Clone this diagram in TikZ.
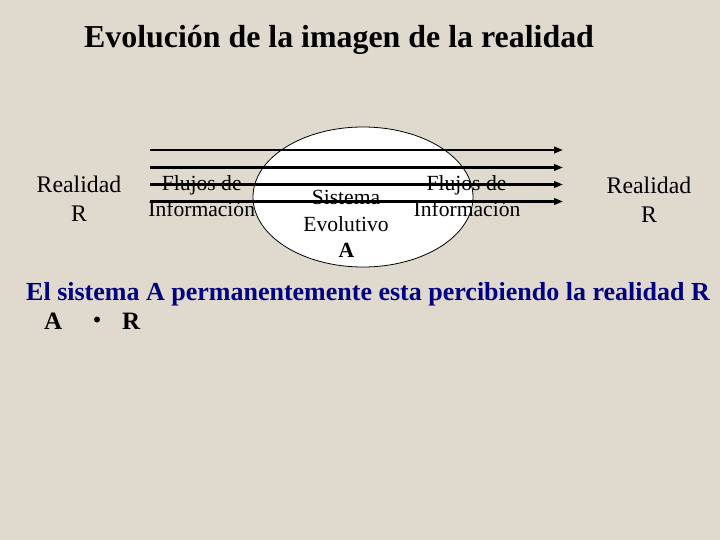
\documentclass[tikz,border=0pt]{standalone}
\usepackage{fontspec}
\setmainfont{Liberation Serif}
\usetikzlibrary{arrows.meta,shapes.geometric}
\definecolor{bgbeige}{RGB}{224,217,205}
\definecolor{navyblue}{RGB}{0,0,128}
\tikzset{
  lbl/.style={anchor=base,inner sep=0pt,font=\fontsize{21.6}{24}\selectfont},
  reallbl/.style={anchor=base,inner sep=0pt,font=\fontsize{23.8}{26}\selectfont},
  flow/.style={line width=2.2pt,-{Triangle[length=9pt,width=6.5pt]}},
}
\begin{document}
\begin{tikzpicture}[x=1pt,y=-1pt]
\useasboundingbox (0,0) rectangle (720,540);
\fill[bgbeige] (0,0) rectangle (720,540);
% title
\node[anchor=base,inner sep=0pt,font=\bfseries\fontsize{31.9}{34}\selectfont] (title) at (339,48) {Evolución de la imagen de la realidad};
% ellipse
\node[draw=black,fill=white,line width=0.8pt,ellipse,minimum width=220pt,minimum height=140pt,inner sep=0pt] (sys) at (363,197) {};
% left and right labels
\node[reallbl] (realL) at (79,192.5) {Realidad};
\node[reallbl] (realLR) at (79,221.8) {R};
\node[reallbl] (realR) at (649,193.3) {Realidad};
\node[reallbl] (realRR) at (649,222.3) {R};
\node[lbl] (flujL) at (201.7,191) {Flujos de};
\node[lbl] (infoL) at (201.7,216.5) {Información};
\node[lbl] (flujR) at (466.5,191) {Flujos de};
\node[lbl] (infoR) at (467,216.5) {Información};
\node[lbl] (sist) at (346,205) {Sistema};
\node[lbl] (evol) at (346,231) {Evolutivo};
\node[lbl,font=\bfseries\fontsize{21.6}{24}\selectfont] (sysA) at (346.5,258) {A};
% arrows
\coordinate (s1) at (150,150); \coordinate (e1) at (563,150);
\coordinate (s2) at (150,167.5); \coordinate (e2) at (563,167.5);
\coordinate (s3) at (150,184.5); \coordinate (e3) at (563,184.5);
\coordinate (s4) at (150,201.5); \coordinate (e4) at (563,201.5);
\draw[flow] (s1) -- (e1);
\draw[flow] (s2) -- (e2);
\draw[flow] (s3) -- (e3);
\draw[flow] (s4) -- (e4);
% bottom text
\node[anchor=base west,inner sep=0pt,text=navyblue,font=\bfseries\fontsize{26}{28}\selectfont] (stmt) at (26,300) {El sistema A permanentemente esta percibiendo la realidad R};
\node[anchor=base west,inner sep=0pt,font=\bfseries\fontsize{25}{28}\selectfont] (relA) at (44,329) {A};
\fill (97,319.5) circle (3pt) coordinate (dot);
\node[anchor=base west,inner sep=0pt,font=\bfseries\fontsize{25}{28}\selectfont] (relR) at (122,329) {R};
\end{tikzpicture}
\end{document}
